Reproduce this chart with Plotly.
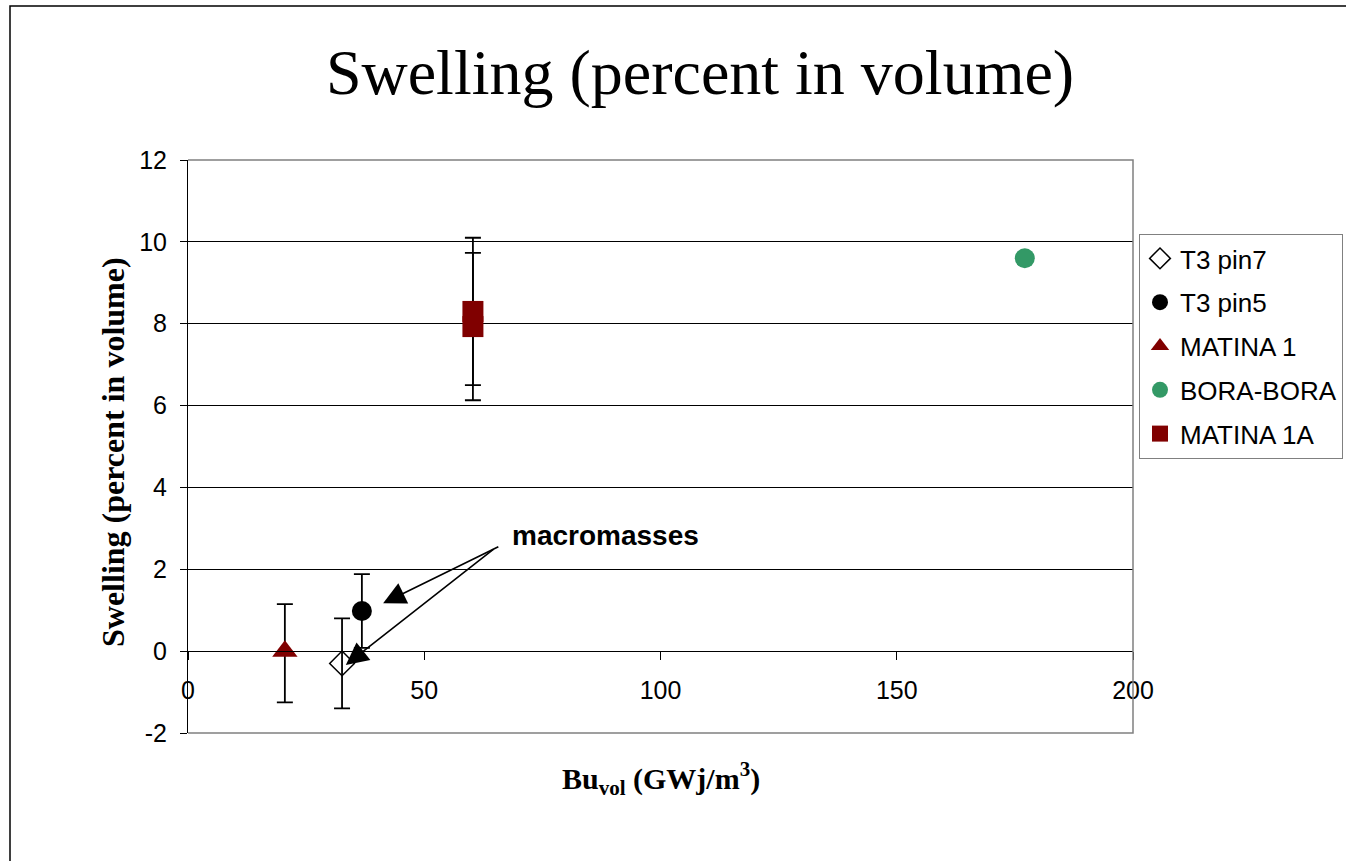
import plotly.graph_objects as go

# ---- data ----
t3pin7_x = [32.6]
t3pin7_y = [-0.3]
t3pin7_err = [1.1]

t3pin5_x = [36.8]
t3pin5_y = [0.98]
t3pin5_err = [0.9]

matina1_x = [20.5]
matina1_y = [0.0]
matina1_err_plus = [1.15]
matina1_err_minus = [1.25]

bora_x = [177.1]
bora_y = [9.6]

matina1a_x = [60.3, 60.3]
matina1a_y = [8.3, 7.93]
matina1a_err = [1.8, 1.8]

x_ticks = [0, 50, 100, 150, 200]
y_ticks = [-2, 0, 2, 4, 6, 8, 10, 12]

DARKRED = "#800000"
GREEN = "#339966"

fig = go.Figure()

def err(arr, arrminus=None):
    d = dict(type="data", array=arr, color="black", thickness=1.8, width=8, visible=True)
    if arrminus is not None:
        d["symmetric"] = False
        d["arrayminus"] = arrminus
    return d

fig.add_trace(go.Scatter(x=t3pin7_x, y=t3pin7_y, mode="markers", name="T3 pin7",
                         legendgroup="a",
                         marker=dict(symbol="diamond-open", size=19, color="black",
                                     line=dict(width=1.5, color="black")),
                         error_y=err(t3pin7_err)))
fig.add_trace(go.Scatter(x=t3pin5_x, y=t3pin5_y, mode="markers", name="T3 pin5",
                         legendgroup="b",
                         marker=dict(symbol="circle", size=20, color="black"),
                         error_y=err(t3pin5_err)))
fig.add_trace(go.Scatter(x=matina1_x, y=matina1_y, mode="markers", name="MATINA 1",
                         legendgroup="c",
                         marker=dict(symbol="triangle-up", size=22, color=DARKRED),
                         error_y=err(matina1_err_plus, matina1_err_minus)))
fig.add_trace(go.Scatter(x=bora_x, y=bora_y, mode="markers", name="BORA-BORA",
                         legendgroup="d",
                         marker=dict(symbol="circle", size=20, color=GREEN)))
fig.add_trace(go.Scatter(x=matina1a_x, y=matina1a_y, mode="markers", name="MATINA 1A",
                         legendgroup="e",
                         marker=dict(symbol="square", size=21, color=DARKRED),
                         error_y=err(matina1a_err)))

# ---- layout ----
W, H = 1346, 861
L, R, T, B = 188, 1346 - 1133, 160, 861 - 733
pw, ph = W - L - R, H - T - B

def px(xp):
    return (xp - L) / pw

def py(yp):
    return (H - B - yp) / ph

fig.update_layout(
    width=W, height=H,
    margin=dict(l=L, r=R, t=T, b=B, pad=0, autoexpand=False),
    paper_bgcolor="white", plot_bgcolor="white",
    font=dict(family="Liberation Sans, Arial", color="black"),
    title=dict(text="Swelling (percent in volume)",
               font=dict(family="Liberation Serif, Times New Roman", size=64, color="black"),
               x=px(700), xanchor="center", xref="paper",
               y=1 - 72 / H, yanchor="middle", yref="container"),
    showlegend=True,
    legend=dict(x=px(1139), y=py(234), xanchor="left", yanchor="top",
                bgcolor="white", bordercolor="#808080", borderwidth=1,
                font=dict(family="Liberation Sans, Arial", size=26, color="black"),
                tracegroupgap=7, traceorder="grouped", itemwidth=30),
    xaxis=dict(range=[0, 200], tickvals=x_ticks, ticktext=[str(v) for v in x_ticks],
               showgrid=False, zeroline=False, showline=True, linecolor="black", linewidth=1,
               ticks="outside", ticklen=8, tickcolor="black", tickwidth=1,
               anchor="free", position=2 / 14,
               ticklabelstandoff=9,
               tickfont=dict(family="Liberation Sans, Arial", size=25, color="black")),
    yaxis=dict(range=[-2, 12], tickvals=y_ticks, ticktext=[str(v) for v in y_ticks],
               showgrid=True, gridcolor="black", gridwidth=1,
               zeroline=False, showline=True, linecolor="black", linewidth=1,
               ticks="outside", ticklen=7, tickcolor="black", tickwidth=1,
               ticklabelstandoff=8,
               tickfont=dict(family="Liberation Sans, Arial", size=25, color="black")),
)

# plot area border (top, right, bottom) in gray, outer frame in black
fig.add_shape(type="path", xref="paper", yref="paper",
              path="M 0 1 L 1 1 L 1 0 L 0 0", line=dict(color="#808080", width=1.5),
              layer="above")
fig.add_shape(type="rect", xref="paper", yref="paper",
              x0=px(10), y0=py(880), x1=px(1360), y1=py(6),
              line=dict(color="black", width=1.5), layer="below")

# axis titles
fig.add_annotation(text="<b>Bu<sub>vol</sub> (GWj/m<sup>3</sup>)</b>",
                   xref="paper", yref="paper", x=px(661), y=py(778),
                   showarrow=False, xanchor="center", yanchor="middle",
                   font=dict(family="Liberation Serif, Times New Roman", size=30, color="black"))
fig.add_annotation(text="<b>Swelling (percent in volume)</b>",
                   xref="paper", yref="paper", x=px(113), y=py(452),
                   showarrow=False, textangle=-90, xanchor="center", yanchor="middle",
                   font=dict(family="Liberation Serif, Times New Roman", size=32, color="black"))

# macromasses label and arrows
fig.add_annotation(text="<b>macromasses</b>", x=88.3, y=2.83, xref="x", yref="y",
                   showarrow=False, xanchor="center", yanchor="middle",
                   font=dict(family="Liberation Sans, Arial", size=28, color="black"))
fig.add_annotation(text="", x=41.3, y=1.17, ax=66.0, ay=2.57, xref="x", yref="y",
                   axref="x", ayref="y", showarrow=True, arrowhead=2, arrowsize=2.8,
                   arrowwidth=1.6, arrowcolor="black", standoff=0)
fig.add_annotation(text="", x=33.4, y=-0.34, ax=65.0, ay=2.52, xref="x", yref="y",
                   axref="x", ayref="y", showarrow=True, arrowhead=2, arrowsize=2.8,
                   arrowwidth=1.6, arrowcolor="black", standoff=0)

fig.write_html("out.html")
